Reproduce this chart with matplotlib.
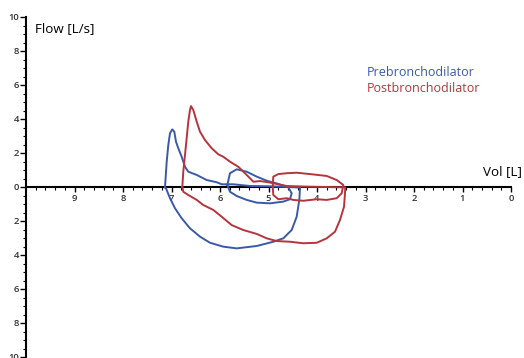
import matplotlib
matplotlib.use("Agg")
import matplotlib.pyplot as plt
from matplotlib.ticker import MultipleLocator, FixedLocator

# ---- data (volume in L, flow in L/s) ----
pre_loop_vol = [7.134, 7.099, 7.066, 7.031, 6.984, 6.942, 6.907, 6.860, 6.790, 6.722, 6.654,
                6.480, 6.274, 6.068, 5.965, 5.726, 5.381, 4.969, 4.598, 4.350,
                4.365, 4.419, 4.522, 4.695, 4.901, 5.243, 5.656, 5.932, 6.206, 6.412,
                6.619, 6.790, 6.928, 7.031, 7.113, 7.134]
pre_loop_flow = [-0.02, 1.49, 2.47, 3.16, 3.39, 3.25, 2.66, 2.28, 1.78, 1.19, 0.90,
                 0.71, 0.41, 0.28, 0.16, 0.16, 0.06, 0.04, 0.00, -0.03,
                 -0.76, -1.75, -2.53, -3.02, -3.22, -3.47, -3.61, -3.51, -3.28, -2.92,
                 -2.43, -1.84, -1.25, -0.66, -0.08, -0.02]

pre_tidal_vol = [5.849, 5.794, 5.656, 5.449, 5.243, 5.037, 4.798, 4.592, 4.522, 4.557,
                 4.695, 4.969, 5.243, 5.449, 5.656, 5.794, 5.849]
pre_tidal_flow = [0.12, 0.81, 1.04, 0.90, 0.61, 0.37, 0.18, -0.02, -0.37, -0.72,
                  -0.86, -0.96, -0.92, -0.76, -0.53, -0.28, 0.12]

post_loop_vol = [6.777, 6.757, 6.701, 6.654, 6.619, 6.598, 6.551, 6.480, 6.412, 6.309,
                 6.171, 6.035, 5.932, 5.794, 5.623, 5.485, 5.381, 5.313, 5.175, 5.004,
                 4.625, 4.212, 3.416,
                 3.423, 3.443, 3.526, 3.629, 3.800, 4.006, 4.282, 4.557, 4.831, 5.037,
                 5.243, 5.520, 5.759, 5.965, 6.138, 6.344, 6.480, 6.654, 6.757, 6.777]
post_loop_flow = [0.00, 0.90, 2.47, 3.84, 4.53, 4.76, 4.53, 3.84, 3.25, 2.76,
                  2.28, 1.92, 1.78, 1.49, 1.19, 0.81, 0.51, 0.31, 0.35, 0.28,
                  0.06, 0.02, -0.02,
                  -0.37, -1.16, -1.94, -2.63, -3.02, -3.28, -3.31, -3.22, -3.18, -3.02,
                  -2.76, -2.53, -2.24, -1.75, -1.35, -1.06, -0.76, -0.47, -0.28, 0.00]

post_tidal_vol = [4.913, 4.901, 4.798, 4.625, 4.419, 4.144, 3.800, 3.594, 3.458, 3.491,
                  3.594, 3.800, 4.006, 4.282, 4.488, 4.625, 4.798, 4.901, 4.913]
post_tidal_flow = [0.02, 0.61, 0.76, 0.81, 0.84, 0.76, 0.65, 0.41, 0.12, -0.37,
                   -0.66, -0.76, -0.72, -0.81, -0.76, -0.66, -0.72, -0.47, 0.02]

x_ticks = [9, 8, 7, 6, 5, 4, 3, 2, 1, 0]
y_ticks = [10, 8, 6, 4, 2, 0, -2, -4, -6, -8, -10]

BLUE = "#3a5aa8"
RED = "#b5353d"

plt.rcParams['font.family'] = ['Open Sans', 'DejaVu Sans']

fig = plt.figure(figsize=(5.24, 3.58), dpi=100)
ax = fig.add_axes([26/524, 1/358, (511-26)/524, 340/358])
ax.set_xlim(10, 0)
ax.set_ylim(-10, 10)

lw = 1.4
ax.plot(pre_loop_vol, pre_loop_flow, color=BLUE, lw=lw, solid_joinstyle='round')
ax.plot(pre_tidal_vol, pre_tidal_flow, color=BLUE, lw=lw, solid_joinstyle='round')
ax.plot(post_loop_vol, post_loop_flow, color=RED, lw=lw, solid_joinstyle='round')
ax.plot(post_tidal_vol, post_tidal_flow, color=RED, lw=lw, solid_joinstyle='round')

for s in ['top', 'right']:
    ax.spines[s].set_visible(False)
ax.spines['bottom'].set_position(('data', 0))
ax.spines['left'].set_position(('data', 10))
ax.spines['bottom'].set_linewidth(1.5)
ax.spines['left'].set_linewidth(1.5)
ax.spines['bottom'].set_zorder(1)

ax.xaxis.set_major_locator(FixedLocator(x_ticks))
ax.set_xticklabels([str(t) for t in x_ticks], fontweight='semibold')
ax.xaxis.set_minor_locator(MultipleLocator(0.2))
ax.yaxis.set_major_locator(FixedLocator(y_ticks))
ax.set_yticklabels([str(abs(t)) for t in y_ticks], fontweight='semibold')
ax.yaxis.set_minor_locator(MultipleLocator(0.5))

ax.tick_params(axis='x', which='major', direction='out', length=3.5, width=1.0,
               labelsize=6.8, pad=1.5, colors='black', labelcolor='#333333')
ax.tick_params(axis='x', which='minor', direction='out', length=2, width=0.8)
ax.tick_params(axis='y', which='major', direction='out', length=4, width=1.0,
               labelsize=6.8, pad=1, colors='black', labelcolor='#333333')
ax.tick_params(axis='y', which='minor', direction='out', length=2.5, width=0.8)
ax.patch.set_visible(False)

fig.text(35/524, 1 - 29/358, "Flow [L/s]", fontsize=9.6, ha='left', va='center')
fig.text(522/524, 1 - 172/358, "Vol [L]", fontsize=9.6, ha='right', va='center')
fig.text(367/524, 1 - 72/358, "Prebronchodilator", fontsize=9.0, color=BLUE,
         ha='left', va='center')
fig.text(367/524, 1 - 89/358, "Postbronchodilator", fontsize=9.0, color=RED,
         ha='left', va='center')

fig.savefig("out.png", dpi=100)
